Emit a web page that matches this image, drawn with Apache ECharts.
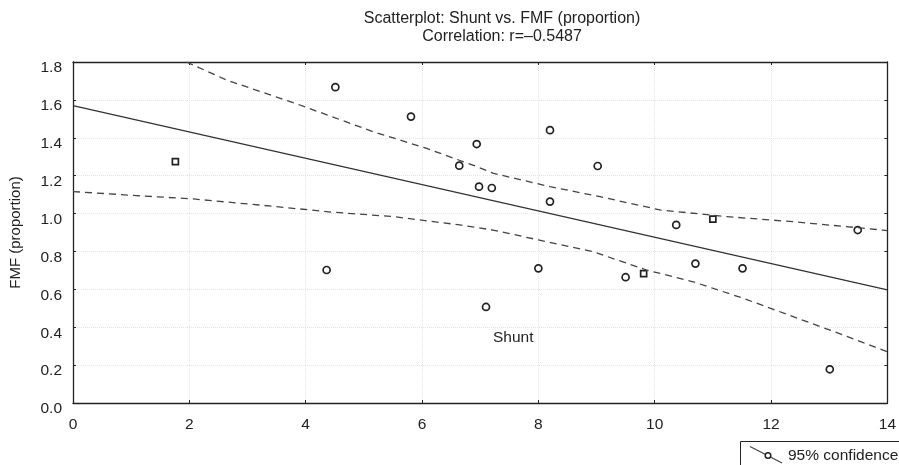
<!DOCTYPE html>
<html>
<head>
<meta charset="utf-8">
<script src="https://cdn.jsdelivr.net/npm/echarts@6/dist/echarts.min.js"></script>
<style>
html, body { margin: 0; padding: 0; background: #fff; }
#main { width: 899px; height: 465px; }
</style>
</head>
<body>
<div id="main"></div>
<script>
// 数据：圆点
var shuntCircle = [4.51, 5.81, 6.94, 6.64, 6.98, 4.36, 8.20, 9.02, 7.20, 8.20, 10.37, 13.49, 8.00, 10.70, 11.51, 9.50, 7.10, 13.01];
var fmfCircle   = [1.667, 1.512, 1.367, 1.253, 1.142, 0.702, 1.440, 1.251, 1.135, 1.063, 0.940, 0.913, 0.711, 0.736, 0.711, 0.664, 0.507, 0.178];
// 数据：方点
var shuntSquare = [1.76, 11.00, 9.81];
var fmfSquare   = [1.274, 0.971, 0.683];
// 回归线
var fitX = [0, 14];
var fitY = [1.570, 0.597];
// 95% 置信带
var upperX = [1.95, 2.64, 3.90, 5.16, 6.07, 6.94, 7.22, 8.20, 9.06, 10.09, 11.23, 12.38, 13.92, 14];
var upperY = [1.800, 1.705, 1.573, 1.432, 1.345, 1.248, 1.213, 1.142, 1.089, 1.019, 0.984, 0.957, 0.913, 0.910];
var lowerX = [0, 1.09, 2.07, 3.21, 4.47, 5.50, 6.65, 7.22, 8.00, 8.94, 9.86, 10.66, 11.52, 12.38, 13.24, 14];
var lowerY = [1.116, 1.095, 1.077, 1.045, 1.007, 0.984, 0.940, 0.913, 0.861, 0.799, 0.702, 0.640, 0.553, 0.456, 0.359, 0.270];
var xTicks = ['0', '2', '4', '6', '8', '10', '12', '14'];

function zip(xs, ys){
    var out = [];
    for (var i = 0; i < xs.length; i++) out.push([xs[i], ys[i]]);
    return out;
}

var font = 'Liberation Sans, Arial, sans-serif';
var myChart = echarts.init(document.getElementById('main'));

function xAxisCfg(pos, showLabel){
    return {
        type: 'value', min: 0, max: 14, interval: 2, position: pos,
        axisLine: { show: true, onZero: false, lineStyle: { color: '#222', width: 1.3 } },
        axisTick: { show: true, inside: true, length: 3, lineStyle: { color: '#222' } },
        axisLabel: {
            show: showLabel, margin: 14, color: '#222', fontSize: 15.5, fontFamily: font,
            formatter: function(v){ return xTicks[Math.round(v / 2)]; }
        },
        splitLine: { show: pos === 'bottom', lineStyle: { color: '#e4e4e4', type: 'dotted' } }
    };
}
function yAxisCfg(pos, showLabel){
    return {
        type: 'value', min: 0, max: 1.8, interval: 0.2, position: pos,
        name: showLabel ? 'FMF (proportion)' : '',
        nameLocation: 'middle', nameGap: 50,
        nameTextStyle: { color: '#222', fontSize: 15, fontFamily: font },
        axisLine: { show: true, onZero: false, lineStyle: { color: '#222', width: 1.3 } },
        axisTick: { show: true, inside: true, length: 3, lineStyle: { color: '#222' } },
        axisLabel: {
            show: showLabel, margin: 11, color: '#222', fontSize: 15.5, fontFamily: font,
            verticalAlign: 'top', padding: [-2, 0, 0, 0],
            formatter: function(v){ return v.toFixed(1); }
        },
        splitLine: { show: pos === 'left', lineStyle: { color: '#e4e4e4', type: 'dotted' } }
    };
}

myChart.setOption({
    backgroundColor: '#fff',
    animation: false,
    title: {
        text: 'Scatterplot: Shunt vs. FMF (proportion)\nCorrelation: r=\u20130.5487',
        left: 497, top: 5, textAlign: 'center',
        textStyle: { color: '#222', fontSize: 16, fontWeight: 'normal', fontFamily: font, lineHeight: 17.5 }
    },
    grid: { left: 73, right: 11, top: 62, bottom: 62 },
    xAxis: [xAxisCfg('bottom', true), xAxisCfg('top', false)],
    yAxis: [yAxisCfg('left', true), yAxisCfg('right', false)],
    graphic: [
        { type: 'text', left: 493, top: 330,
          style: { text: 'Shunt', fill: '#222', fontSize: 15.5, fontFamily: font } },
        { type: 'rect', shape: { x: 740.5, y: 441.5, width: 180, height: 40 },
          style: { fill: '#fff', stroke: '#222', lineWidth: 1 } },
        { type: 'line', shape: { x1: 750, y1: 446.5, x2: 782, y2: 463 },
          style: { stroke: '#444', lineWidth: 1.2 } },
        { type: 'circle', shape: { cx: 768, cy: 455.5, r: 2.8 },
          style: { fill: '#fff', stroke: '#222', lineWidth: 1.5 } },
        { type: 'text', left: 788, top: 448,
          style: { text: '95% confidence', fill: '#222', fontSize: 15.5, fontFamily: font } }
    ],
    series: [
        {
            type: 'line', data: zip(fitX, fitY), showSymbol: false, silent: true,
            lineStyle: { color: '#333', width: 1.4 }
        },
        {
            type: 'line', data: zip(upperX, upperY), showSymbol: false, silent: true,
            lineStyle: { color: '#444', width: 1.3, type: [7, 5] }
        },
        {
            type: 'line', data: zip(lowerX, lowerY), showSymbol: false, silent: true,
            lineStyle: { color: '#444', width: 1.3, type: [7, 5] }
        },
        {
            type: 'scatter', data: zip(shuntCircle, fmfCircle),
            symbol: 'circle', symbolSize: 7,
            itemStyle: { color: '#fff', borderColor: '#222', borderWidth: 1.7, opacity: 1 }
        },
        {
            type: 'scatter', data: zip(shuntSquare, fmfSquare),
            symbol: 'rect', symbolSize: 6,
            itemStyle: { color: '#fff', borderColor: '#222', borderWidth: 1.7, opacity: 1 }
        }
    ]
});
</script>
</body>
</html>
